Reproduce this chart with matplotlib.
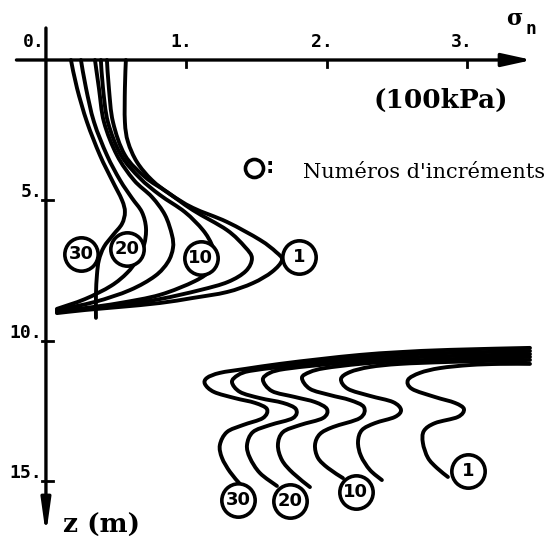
import numpy as np
import matplotlib.pyplot as plt
from matplotlib.path import Path
from matplotlib.patches import PathPatch

# sigma_n in units of 100 kPa, z = depth in m
x_ticks = [1, 2, 3]
x_tick_labels = ['1.', '2.', '3.']
z_ticks = [5, 10, 15]
z_tick_labels = ['5.', '10.', '15.']

# ---- upper layer, increments 30, 20, 15, 10, 5, 1 (left to right)
sig_a30 = [0.178, 0.221, 0.292, 0.384, 0.470, 0.541, 0.562, 0.541, 0.477, 0.413, 0.377, 0.363, 0.356, 0.356]
z_a30 = [0, 1.00, 2.21, 3.39, 4.28, 4.99, 5.42, 5.84, 6.24, 6.66, 7.13, 7.66, 8.37, 9.19]

sig_a20 = [0.249, 0.285, 0.342, 0.434, 0.527, 0.612, 0.683, 0.712, 0.698, 0.648, 0.577, 0.463, 0.278, 0.078]
z_a20 = [0, 1.00, 2.21, 3.39, 4.28, 4.92, 5.42, 5.99, 6.59, 7.13, 7.59, 8.05, 8.52, 8.87]

sig_a15 = [0.349, 0.377, 0.413, 0.505, 0.626, 0.754, 0.847, 0.897, 0.904, 0.868, 0.776, 0.598, 0.349, 0.078]
z_a15 = [0, 1.00, 2.21, 3.39, 4.28, 4.88, 5.52, 6.24, 6.70, 7.20, 7.70, 8.20, 8.62, 8.91]

sig_a10 = [0.391, 0.406, 0.441, 0.534, 0.669, 0.811, 0.989, 1.117, 1.181, 1.203, 1.174, 1.060, 0.811, 0.527, 0.278, 0.078]
z_a10 = [0, 1.00, 2.21, 3.39, 4.21, 4.81, 5.42, 6.06, 6.59, 7.06, 7.48, 7.88, 8.37, 8.66, 8.84, 8.95]

sig_a5 = [0.434, 0.448, 0.477, 0.562, 0.705, 0.861, 1.046, 1.288, 1.416, 1.466, 1.423, 1.295, 1.096, 0.811, 0.527, 0.278, 0.078]
z_a5 = [0, 1.00, 2.21, 3.39, 4.17, 4.70, 5.35, 6.06, 6.66, 7.06, 7.52, 7.91, 8.20, 8.52, 8.73, 8.87, 8.98]

sig_a1 = [0.569, 0.562, 0.562, 0.584, 0.648, 0.754, 0.883, 1.046, 1.288, 1.523, 1.637, 1.680, 1.609, 1.473, 1.288, 1.046, 0.811, 0.527, 0.278, 0.078]
z_a1 = [0, 1.00, 2.21, 2.92, 3.64, 4.28, 4.78, 5.27, 5.77, 6.41, 6.84, 7.13, 7.55, 7.95, 8.27, 8.48, 8.66, 8.80, 8.91, 9.02]

# ---- lower layer, same increments
sig_b30 = [3.445, 2.875, 2.520, 2.235, 1.950, 1.665, 1.416, 1.238, 1.146, 1.132, 1.196, 1.345, 1.488, 1.573, 1.544, 1.402, 1.288, 1.238, 1.253, 1.310, 1.381]
z_b30 = [10.26, 10.33, 10.41, 10.51, 10.66, 10.83, 11.01, 11.15, 11.33, 11.55, 11.83, 12.05, 12.22, 12.44, 12.76, 13.01, 13.26, 13.72, 14.18, 14.68, 15.11]

sig_b20 = [3.445, 2.875, 2.520, 2.235, 1.950, 1.665, 1.452, 1.367, 1.324, 1.381, 1.523, 1.687, 1.779, 1.758, 1.594, 1.473, 1.431, 1.452, 1.523, 1.644]
z_b20 = [10.37, 10.44, 10.51, 10.62, 10.76, 10.94, 11.08, 11.23, 11.48, 11.83, 12.05, 12.22, 12.44, 12.76, 13.01, 13.26, 13.72, 14.18, 14.72, 15.18]

sig_b15 = [3.445, 2.875, 2.520, 2.235, 1.950, 1.701, 1.594, 1.544, 1.609, 1.772, 1.915, 2.000, 1.972, 1.808, 1.687, 1.651, 1.680, 1.758, 1.879]
z_b15 = [10.48, 10.55, 10.62, 10.73, 10.87, 11.01, 11.15, 11.40, 11.80, 12.01, 12.19, 12.44, 12.76, 13.01, 13.26, 13.72, 14.26, 14.72, 15.22]

sig_b10 = [3.445, 2.875, 2.520, 2.235, 1.986, 1.879, 1.822, 1.879, 2.021, 2.164, 2.263, 2.235, 2.043, 1.950, 1.915, 1.936, 2.007, 2.114]
z_b10 = [10.58, 10.66, 10.73, 10.83, 10.98, 11.12, 11.33, 11.72, 11.94, 12.12, 12.37, 12.76, 13.08, 13.33, 13.72, 14.18, 14.54, 14.90]

sig_b5 = [3.445, 2.875, 2.520, 2.306, 2.164, 2.100, 2.149, 2.306, 2.470, 2.527, 2.484, 2.342, 2.249, 2.221, 2.242, 2.306, 2.391]
z_b5 = [10.69, 10.76, 10.83, 10.94, 11.12, 11.37, 11.72, 11.97, 12.19, 12.47, 12.72, 12.94, 13.19, 13.61, 14.11, 14.61, 14.97]

sig_b1 = [3.445, 3.231, 3.018, 2.804, 2.662, 2.577, 2.605, 2.769, 2.911, 2.975, 2.932, 2.769, 2.690, 2.683, 2.719, 2.783, 2.861]
z_b1 = [10.83, 10.83, 10.87, 10.98, 11.15, 11.40, 11.72, 12.01, 12.22, 12.44, 12.72, 12.94, 13.22, 13.65, 14.18, 14.54, 14.86]

# circled increment numbers
tag_text = ['30', '20', '10', '1', '30', '20', '10', '1']
tag_sig = [0.249, 0.577, 1.103, 1.801, 1.367, 1.737, 2.206, 3.004]
tag_z = [6.91, 6.74, 7.06, 7.02, 15.68, 15.72, 15.40, 14.65]


def smooth_path(xs, ys):
    # Catmull-Rom through the given points, written as cubic bezier pieces
    p = np.column_stack([xs, ys]).astype(float)
    q = np.vstack([p[0], p, p[-1]])
    verts = [p[0]]
    codes = [Path.MOVETO]
    for i in range(1, len(q) - 2):
        a, b, c, d = q[i - 1], q[i], q[i + 1], q[i + 2]
        verts += [b + (c - a) / 6, c - (d - b) / 6, c]
        codes += [Path.CURVE4] * 3
    return Path(verts, codes)


fig = plt.figure(figsize=(5.54, 5.43), dpi=100)
ax = fig.add_axes([0, 0, 1, 1])
ax.set_xlim(-0.327, 3.616)
ax.set_ylim(17.213, -2.138)
ax.axis('off')

curves = [
    (sig_a30, z_a30), (sig_a20, z_a20), (sig_a15, z_a15),
    (sig_a10, z_a10), (sig_a5, z_a5), (sig_a1, z_a1),
    (sig_b30, z_b30), (sig_b20, z_b20), (sig_b15, z_b15),
    (sig_b10, z_b10), (sig_b5, z_b5), (sig_b1, z_b1),
]
for xs, ys in curves:
    ax.add_patch(PathPatch(smooth_path(xs, ys), fill=False, ec='black', lw=2.8,
                           capstyle='round', joinstyle='round', zorder=2))

# axes drawn by hand: sigma_n to the right, z downwards
ax.annotate('', xy=(3.46, 0), xytext=(-0.21, 0),
            arrowprops=dict(arrowstyle='-|>,head_length=1.0,head_width=0.22',
                            mutation_scale=18, lw=2.4, color='black',
                            shrinkA=0, shrinkB=0))
ax.annotate('', xy=(0, 16.93), xytext=(0, -1.14),
            arrowprops=dict(arrowstyle='-|>,head_length=1.0,head_width=0.14',
                            mutation_scale=20, lw=2.4, color='black',
                            shrinkA=0, shrinkB=0))

tick_font = dict(family='DejaVu Sans Mono', fontweight='bold', fontsize=13)
for t, lab in zip(x_ticks, x_tick_labels):
    ax.plot([t, t], [0, 0.25], color='black', lw=2)
    ax.text(t + 0.04, -0.46, lab, ha='right', va='baseline', **tick_font)
ax.text(-0.012, -0.46, '0.', ha='right', va='baseline', **tick_font)
for t, lab in zip(z_ticks, z_tick_labels):
    ax.plot([-0.025, 0.05], [t, t], color='black', lw=2)
    ax.text(-0.025, t - 0.1, lab, ha='right', va='baseline', **tick_font)

ax.text(3.33, -1.46, 'σ', ha='center', va='center', fontsize=16, fontweight='bold',
        family='DejaVu Serif')
ax.text(3.45, -1.12, 'n', ha='center', va='center', fontsize=13, fontweight='bold',
        family='DejaVu Sans Mono')
ax.text(2.33, 1.43, '(100kPa)', ha='left', va='center', fontsize=19,
        fontweight='bold', family='DejaVu Serif')
ax.text(0.121, 16.57, 'z (m)', ha='left', va='center', fontsize=19,
        fontweight='bold', family='DejaVu Serif')

# legend for the circled numbers
ax.plot([1.48], [3.85], 'o', ms=13, mfc='white', mec='black', mew=2.6)
ax.text(1.594, 3.8, ':', ha='center', va='center', fontsize=15, fontweight='bold')
ax.text(1.829, 4.21, "Numéros d'incréments", ha='left', va='baseline', fontsize=15,
        family='DejaVu Serif')

ax.plot(tag_sig, tag_z, 'o', ls='none', ms=24, mfc='white', mec='black', mew=2.6,
        zorder=3)
for s, z, t in zip(tag_sig, tag_z, tag_text):
    ax.text(s, z, t, ha='center', va='center', fontsize=13, fontweight='bold',
            zorder=4)

fig.savefig('out.png', dpi=100)
